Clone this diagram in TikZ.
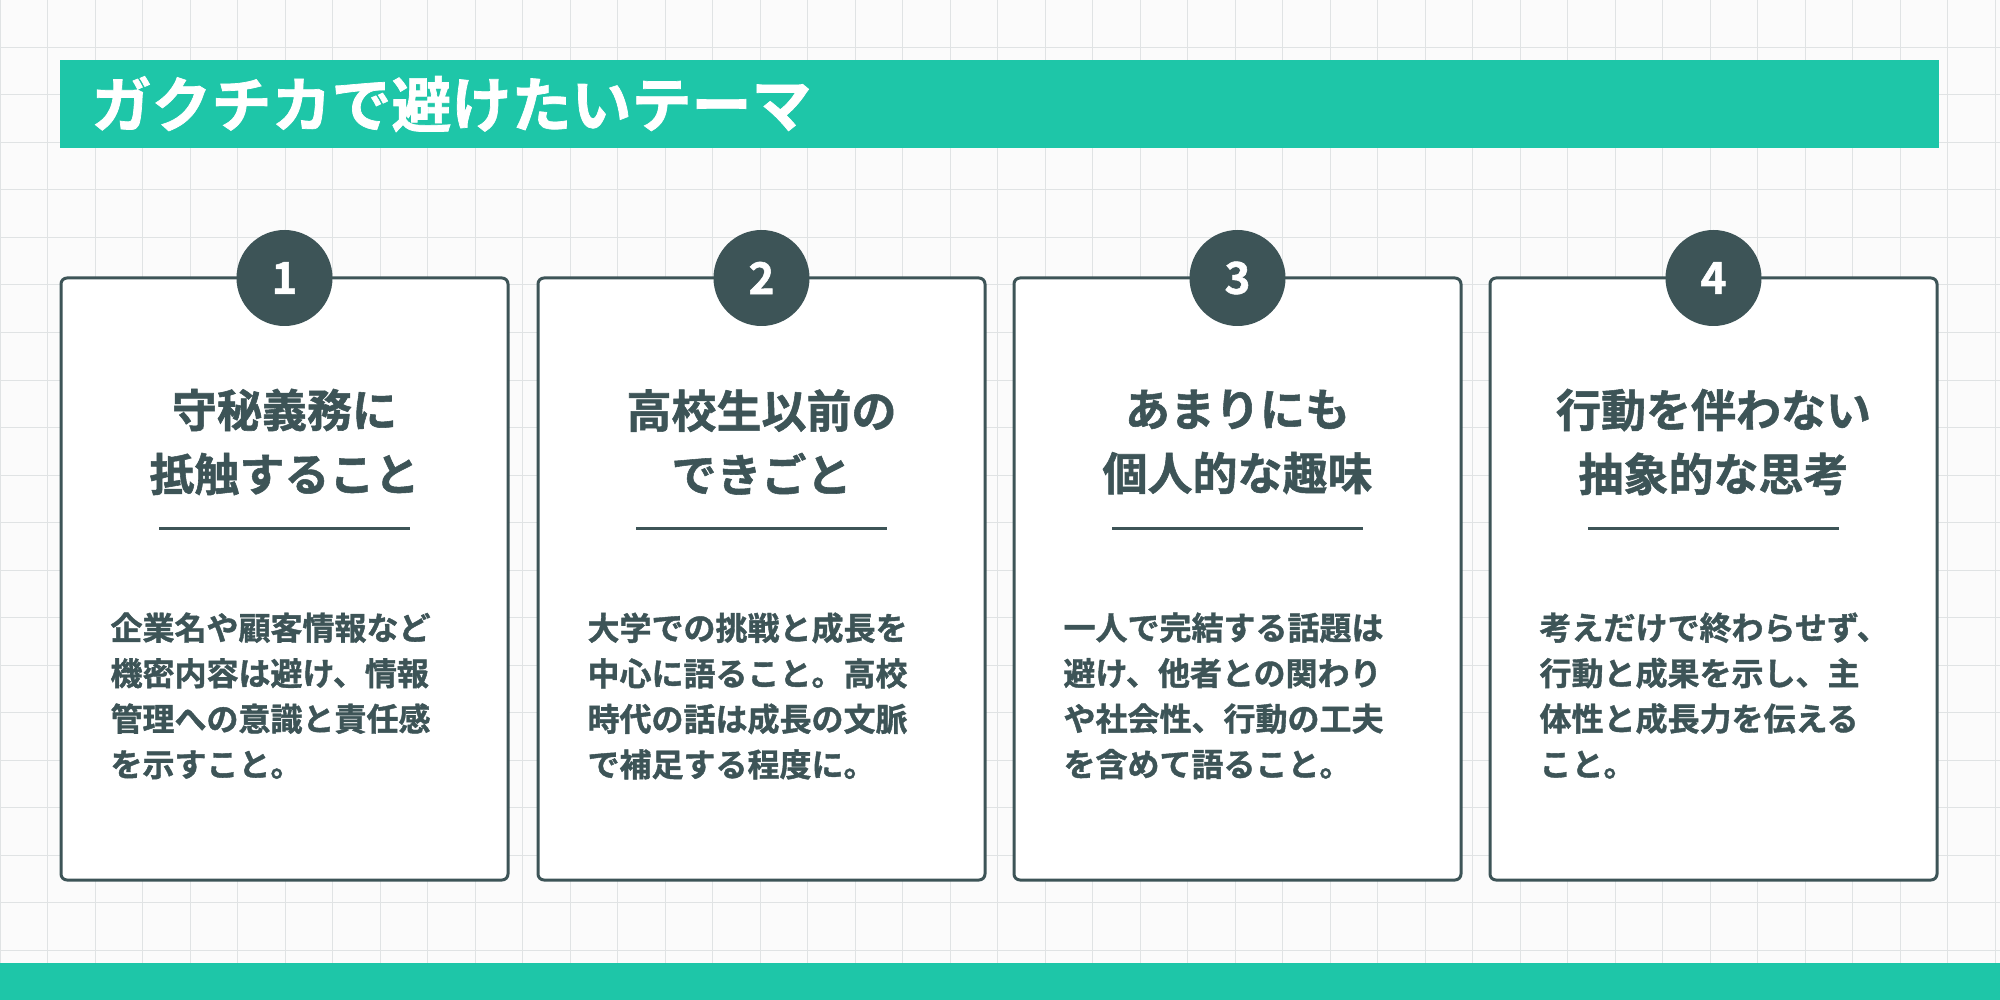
\documentclass[tikz,border=0pt]{standalone}
\usepackage{fontspec}
\newfontfamily\jp{Noto Sans CJK JP Bold}[FakeBold=1.2]
\definecolor{grn}{HTML}{1EC6A8}
\definecolor{drk}{HTML}{3D5457}
\definecolor{grd}{HTML}{E0E3E4}
\begin{document}
\begin{tikzpicture}[x=1pt,y=-1pt,
 card/.style={draw=drk,line width=3pt,fill=white,rounded corners=6pt},
 num/.style={circle,fill=drk,minimum size=96pt,inner sep=0pt,text=white,font=\jp\fontsize{44}{44}\selectfont},
 ttl/.style={text=drk,font=\jp\fontsize{45}{64}\selectfont,align=center},
 bdy/.style={text=drk,font=\jp\fontsize{32}{45.5}\selectfont,align=left,anchor=north west}]
\useasboundingbox (0,0) rectangle (2000,1000);
\fill[white!97!gray] (0,0) rectangle (2000,1000);
\foreach \i in {0,...,42} \draw[grd,line width=1pt] (\i*47.5,0) -- (\i*47.5,1000);
\foreach \j in {0,...,21} \draw[grd,line width=1pt] (0,\j*47.5) -- (2000,\j*47.5);
\fill[grn] (60,60) rectangle (1939,148);
\node[anchor=west,text=white,font=\jp\fontsize{60}{60}\selectfont] (hdr) at (88,104) {ガクチカで避けたいテーマ};
\fill[grn] (0,963) rectangle (2000,1000);
\foreach \n/\x/\t/\b in {1/61/{守秘義務に\\抵触すること}/{企業名や顧客情報など\\機密内容は避け、情報\\管理への意識と責任感\\を示すこと。},
 2/538/{高校生以前の\\できごと}/{大学での挑戦と成長を\\中心に語ること。高校\\時代の話は成長の文脈\\で補足する程度に。},
 3/1014/{あまりにも\\個人的な趣味}/{一人で完結する話題は\\避け、他者との関わり\\や社会性、行動の工夫\\を含めて語ること。},
 4/1490/{行動を伴わない\\抽象的な思考}/{考えだけで終わらせず、\\行動と成果を示し、主\\体性と成長力を伝える\\こと。}}{
 \draw[card] (\x,278) rectangle (\x+447,880);
 \node[num] (c\n) at (\x+223.5,278) {\n};
 \node[ttl] (t\n) at (\x+223.5,442) {\t};
 \draw[drk,line width=3pt] (\x+98,528) -- (\x+349,528);
 \node[bdy] (b\n) at (\x+46,609) {\b};
}
\end{tikzpicture}
\end{document}
